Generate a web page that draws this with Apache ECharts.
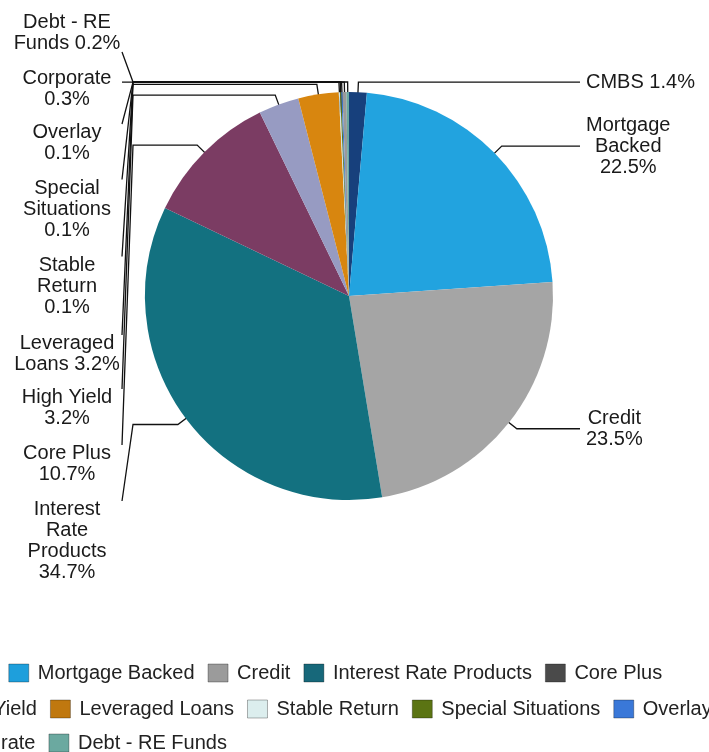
<!DOCTYPE html>
<html lang="en">
<head>
    <meta charset="UTF-8">
    <title>Allocation by strategy</title>
    <script src="https://cdn.jsdelivr.net/npm/echarts@6/dist/echarts.min.js"></script>
    <style>html, body { margin: 0; padding: 0; background: #fff; }</style>
</head>
<body>
    <div id="chart" style="width: 709px; height: 752px;"></div>
    <script>
        // slices, clockwise from 12 o'clock
        const categories = ['CMBS', 'Mortgage Backed', 'Credit', 'Interest Rate Products', 'Core Plus', 'High Yield',
            'Leveraged Loans', 'Stable Return', 'Special Situations', 'Overlay', 'Corporate', 'Debt - RE Funds'];
        const shares = [1.4, 22.5, 23.5, 34.7, 10.7, 3.2, 3.2, 0.1, 0.1, 0.1, 0.3, 0.2];

        // label text as wrapped in the picture, and what goes before the percent
        const labelNames = ['CMBS', 'Mortgage\nBacked', 'Credit', 'Interest\nRate\nProducts', 'Core Plus', 'High Yield',
            'Leveraged\nLoans', 'Stable\nReturn', 'Special\nSituations', 'Overlay', 'Corporate', 'Debt - RE\nFunds'];
        const pctBreak = [' ', '\n', '\n', '\n', '\n', '\n', ' ', '\n', '\n', '\n', '\n', ' '];

        // legend rows
        const legendRows = [
            ['CMBS', 'Mortgage Backed', 'Credit', 'Interest Rate Products', 'Core Plus'],
            ['High Yield', 'Leveraged Loans', 'Stable Return', 'Special Situations', 'Overlay'],
            ['Corporate', 'Debt - RE Funds']
        ];

        const sliceColors = ['#17407c', '#22a3df', '#a5a5a5', '#137180', '#7b3c63', '#979bc2',
            '#d8860f', '#cfe6e8', '#5a7412', '#3b78d6', '#9a9a9a', '#6aa8a0'];
        const legendColors = ['#17407c', '#1e9fdc', '#9b9b9b', '#17687a', '#4a4a4a', '#979bc2',
            '#c0780f', '#dceeee', '#5b7413', '#3a78d8', '#8c8c8c', '#6ba9a0'];

        // layout
        const font = "'Liberation Sans', Arial, sans-serif";
        const cx = 349, cy = 296, R = 204;
        const leftLabelX = 67, leftBendX = 133, leftEndX = 122, rightLabelLeft = 586;
        const leftLabelY = { 3: 541, 4: 464, 5: 408, 6: 354, 7: 286, 8: 209, 9: 143, 10: 89, 11: 33 };
        const legendLeft = [-92, -83, -83];
        const legendTop = [663, 699, 733];

        const total = shares.reduce((a, b) => a + b, 0);
        let acc = 0;
        const midAngle = shares.map(v => {
            const m = (acc + v / 2) / total * 2 * Math.PI;
            acc += v;
            return m;
        });

        var myChart = echarts.init(document.getElementById('chart'));

        const option = {
            backgroundColor: '#fff',
            animation: false,
            legend: legendRows.map((row, k) => ({
                data: row.map(n => ({ name: n, itemStyle: { color: legendColors[categories.indexOf(n)] } })),
                left: legendLeft[k],
                top: legendTop[k],
                width: 1000,
                padding: 0,
                icon: 'rect',
                itemWidth: 20,
                itemHeight: 18,
                itemGap: 13,
                selectedMode: false,
                itemStyle: { borderColor: 'rgba(0,0,0,0.3)', borderWidth: 1 },
                textStyle: { fontSize: 20, color: '#222', fontFamily: font, padding: [0, 0, 0, 4] }
            })),
            series: [{
                type: 'pie',
                center: [cx, cy],
                radius: R,
                startAngle: 90,
                clockwise: true,
                avoidLabelOverlap: false,
                data: categories.map((n, i) => ({ name: n, value: shares[i], itemStyle: { color: sliceColors[i] } })),
                label: {
                    show: true,
                    position: 'outside',
                    fontSize: 20,
                    lineHeight: 21,
                    color: '#1a1a1a',
                    fontFamily: font,
                    formatter: p => labelNames[p.dataIndex] + pctBreak[p.dataIndex] + p.percent.toFixed(1) + '%'
                },
                labelLine: {
                    show: true,
                    length: 0,
                    length2: 0,
                    smooth: false,
                    lineStyle: { color: '#111', width: 1.3 }
                },
                labelLayout: function (p) {
                    const i = p.dataIndex;
                    const s = Math.sin(midAngle[i]), c = Math.cos(midAngle[i]);
                    const inner = [cx + R * 0.9 * s, cy - R * 0.9 * c];
                    const elbow = [cx + (R + 10) * s, cy - (R + 10) * c];
                    const w = p.labelRect.width, h = p.labelRect.height;
                    if (s > 0) {
                        return {
                            x: rightLabelLeft + w / 2, y: elbow[1], align: 'center', verticalAlign: 'middle',
                            labelLinePoints: [inner, elbow, [rightLabelLeft - 6, elbow[1]]]
                        };
                    }
                    const ly = leftLabelY[i];
                    const endY = Math.min(Math.max(elbow[1], ly - h / 2 + 2), ly + h / 2 - 2);
                    return {
                        x: leftLabelX, y: ly, align: 'center', verticalAlign: 'middle',
                        labelLinePoints: [inner, elbow, [leftBendX, elbow[1]], [leftEndX, endY]]
                    };
                },
                emphasis: { disabled: true }
            }]
        };

        myChart.setOption(option);
    </script>
</body>
</html>
